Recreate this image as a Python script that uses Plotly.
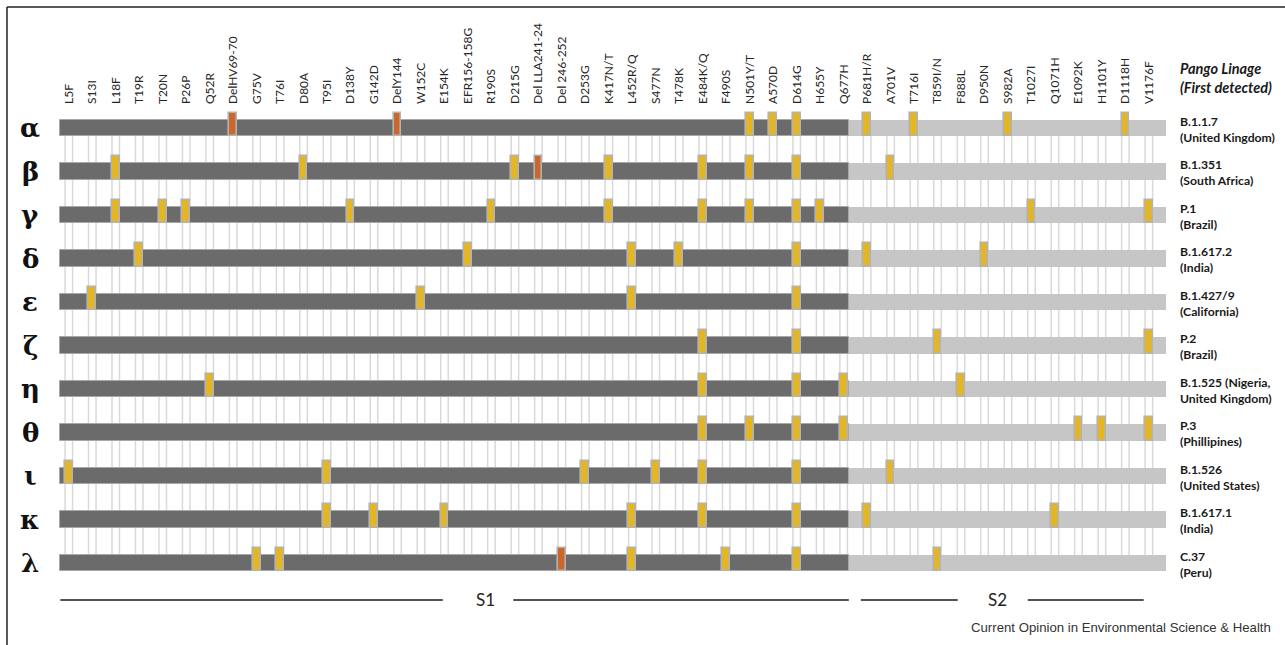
import plotly.graph_objects as go

# ---------------- data ----------------
mutations = ["L5F", "S13I", "L18F", "T19R", "T20N", "P26P", "Q52R", "DelHV69-70", "G75V", "T76I",
             "D80A", "T95I", "D138Y", "G142D", "DelY144", "W152C", "E154K", "EFR156-158G", "R190S",
             "D215G", "Del LLA241-24", "Del 246-252", "D253G", "K417N/T", "L452R/Q", "S477N", "T478K",
             "E484K/Q", "F490S", "N501Y/T", "A570D", "D614G", "H655Y", "Q677H", "P681H/R", "A701V",
             "T716I", "T859I/N", "F888L", "D950N", "S982A", "T1027I", "Q1071H", "E1092K", "H1101Y",
             "D1118H", "V1176F"]

variants = ["α", "β", "γ", "δ", "ε", "ζ", "η", "θ", "ι", "κ", "λ"]
lineages = ["B.1.1.7<br>(United Kingdom)", "B.1.351<br>(South Africa)", "P.1<br>(Brazil)",
            "B.1.617.2<br>(India)", "B.1.427/9<br>(California)", "P.2<br>(Brazil)",
            "B.1.525 (Nigeria,<br>United Kingdom)", "P.3<br>(Phillipines)", "B.1.526<br>(United States)",
            "B.1.617.1<br>(India)", "C.37<br>(Peru)"]

# mutation names present in each variant (substitutions)
subs = {
    "α": ["N501Y/T", "A570D", "D614G", "P681H/R", "T716I", "S982A", "D1118H"],
    "β": ["L18F", "D80A", "D215G", "K417N/T", "E484K/Q", "N501Y/T", "D614G", "A701V"],
    "γ": ["L18F", "T20N", "P26P", "D138Y", "R190S", "K417N/T", "E484K/Q", "N501Y/T", "D614G",
          "H655Y", "T1027I", "V1176F"],
    "δ": ["T19R", "EFR156-158G", "L452R/Q", "T478K", "D614G", "P681H/R", "D950N"],
    "ε": ["S13I", "W152C", "L452R/Q", "D614G"],
    "ζ": ["E484K/Q", "D614G", "T859I/N", "V1176F"],
    "η": ["Q52R", "E484K/Q", "D614G", "Q677H", "F888L"],
    "θ": ["E484K/Q", "N501Y/T", "D614G", "Q677H", "E1092K", "H1101Y", "V1176F"],
    "ι": ["L5F", "T95I", "D253G", "S477N", "E484K/Q", "D614G", "A701V"],
    "κ": ["T95I", "G142D", "E154K", "L452R/Q", "E484K/Q", "D614G", "P681H/R", "Q1071H"],
    "λ": ["G75V", "T76I", "L452R/Q", "F490S", "D614G", "T859I/N"],
}
# deletions present in each variant
dels = {
    "α": ["DelHV69-70", "DelY144"],
    "β": ["Del LLA241-24"],
    "λ": ["Del 246-252"],
}

# S1 / S2 domain boundary (between Q677H and P681H/R)
s1_start, s1_end, s2_end = -0.36, 33.22, 46.72

# ---------------- styling ----------------
DARK = "#6b6b6b"
LIGHT = "#c6c6c6"
GOLD = "#e5b623"
RED = "#c9672c"
MARKER_EDGE = "#b3b3b3"
GRID = "#d9d9d9"

W, H = 1285, 645
TOP = 105
col_px = 23.48
row_px = 43.5
x0_px = 68.8
y0_px = 128
x_range = [-x0_px / col_px, (W - x0_px) / col_px]
y_range = [(H - y0_px) / row_px, (TOP - y0_px) / row_px]

n_rows = len(variants)
rows = list(range(n_rows))
bar_h = 0.39
mk_top = 0.356
mk_bot = 0.184
mk_w = 0.33

fig = go.Figure()

# backbone bars (S1 dark, S2 light)
fig.add_trace(go.Bar(orientation="h", y=rows, x=[s1_end - s1_start] * n_rows, base=[s1_start] * n_rows,
                     width=bar_h, marker=dict(color=DARK, line=dict(color="#a8a8a8", width=1)),
                     hoverinfo="skip", showlegend=False))
fig.add_trace(go.Bar(orientation="h", y=rows, x=[s2_end - s1_end] * n_rows, base=[s1_end] * n_rows,
                     width=bar_h, marker=dict(color=LIGHT, line=dict(width=0)),
                     hoverinfo="skip", showlegend=False))

# mutation markers
def marker_trace(table, color):
    xs, bases = [], []
    for r, v in enumerate(variants):
        for m in table.get(v, []):
            xs.append(mutations.index(m))
            bases.append(r - mk_top)
    return go.Bar(orientation="v", x=xs, y=[mk_top + mk_bot] * len(xs), base=bases, width=mk_w,
                  marker=dict(color=color, line=dict(color=MARKER_EDGE, width=1.6)),
                  hoverinfo="skip", showlegend=False)

fig.add_trace(marker_trace(subs, GOLD))
fig.add_trace(marker_trace(dels, RED))

# guide lines (pairs flanking each mutation column)
shapes = []
for i in range(len(mutations)):
    for dx in (-0.16, 0.16):
        shapes.append(dict(type="line", xref="x", yref="y", x0=i + dx, x1=i + dx, y0=0, y1=n_rows - 1,
                           line=dict(color=GRID, width=1.5), layer="below"))

# S1 / S2 domain lines
y_dom = 10.85
for a, b in [(s1_start, 15.93), (18.93, s1_end), (33.73, 37.86), (40.84, 45.78)]:
    shapes.append(dict(type="line", xref="x", yref="y", x0=a, x1=b, y0=y_dom, y1=y_dom,
                       line=dict(color="#1a1a1a", width=1.6)))

# frame (top and left)
fx = 7 / W
fy = 1 + (TOP - 7) / (H - TOP)
shapes.append(dict(type="line", xref="paper", yref="paper", x0=fx, x1=1.01, y0=fy, y1=fy,
                   line=dict(color="#222222", width=1.5)))
shapes.append(dict(type="line", xref="paper", yref="paper", x0=fx, x1=fx, y0=-0.01, y1=fy,
                   line=dict(color="#222222", width=1.5)))

annotations = []
for r, v in enumerate(variants):
    annotations.append(dict(x=-1.64, y=r, xref="x", yref="y", text="<b>%s</b>" % v, showarrow=False,
                            xanchor="center", yanchor="middle",
                            font=dict(family="DejaVu Serif", size=26, color="#111111")))
    annotations.append(dict(x=47.25, y=r + 0.03, xref="x", yref="y", text="<b>%s</b>" % lineages[r],
                            showarrow=False, xanchor="left", yanchor="middle", align="left",
                            font=dict(family="Lato", size=12.2, color="#1a1a1a")))

annotations.append(dict(x=47.25, y=1 + (TOP - 78) / (H - TOP), xref="x", yref="paper",
                        text="<b><i>Pango Linage<br>(First detected)</i></b>", showarrow=False,
                        xanchor="left", yanchor="middle", align="left",
                        font=dict(family="Lato", size=14.5, color="#1a1a1a")))
annotations.append(dict(x=17.75, y=y_dom, xref="x", yref="y", text="S1", showarrow=False,
                        xanchor="center", yanchor="middle", font=dict(family="Lato", size=17, color="#222222")))
annotations.append(dict(x=39.55, y=y_dom, xref="x", yref="y", text="S2", showarrow=False,
                        xanchor="center", yanchor="middle", font=dict(family="Lato", size=17, color="#222222")))
annotations.append(dict(x=1273 / W, y=(H - 627) / (H - TOP), xref="paper", yref="paper",
                        text="Current Opinion in Environmental Science & Health", showarrow=False,
                        xanchor="right", yanchor="middle",
                        font=dict(family="Liberation Sans", size=13.2, color="#333333")))

fig.update_layout(
    width=W, height=H, margin=dict(l=0, r=0, t=TOP, b=0, autoexpand=False),
    paper_bgcolor="white", plot_bgcolor="white", barmode="overlay", bargap=0,
    shapes=shapes, annotations=annotations, showlegend=False,
    xaxis=dict(range=x_range, side="top", tickmode="array", tickvals=list(range(len(mutations))),
               ticktext=mutations, tickangle=-90, showgrid=False, zeroline=False, showline=False,
               ticks="", tickfont=dict(family="Lato", size=12, color="#262626"), automargin=False),
    yaxis=dict(range=y_range, showgrid=False, zeroline=False, showticklabels=False, showline=False,
               automargin=False),
)

fig.write_html("out.html")
